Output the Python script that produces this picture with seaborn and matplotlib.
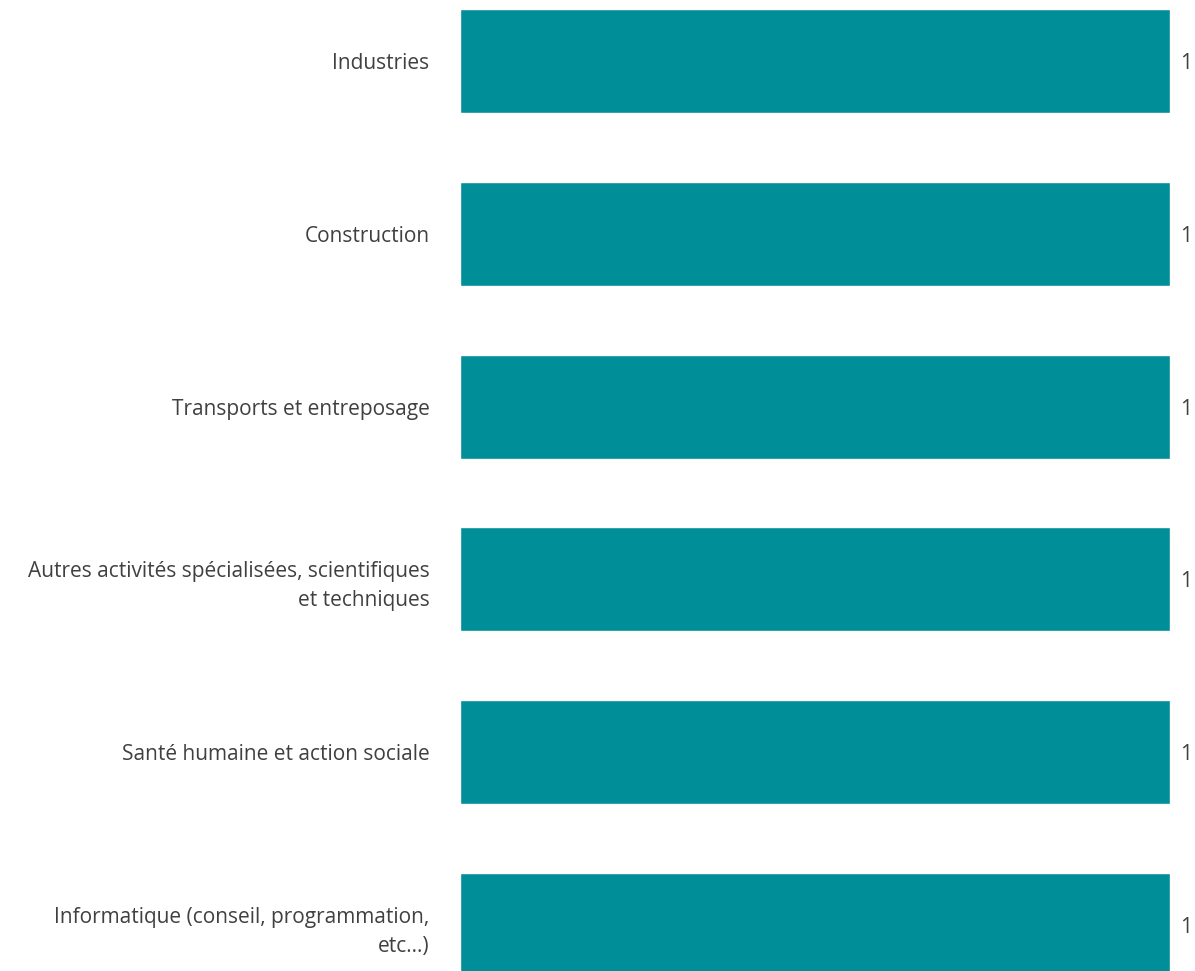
import pandas as pd
import matplotlib.pyplot as plt
import seaborn as sns

# données
secteurs = ["Industries",
            "Construction",
            "Transports et entreposage",
            "Autres activités spécialisées, scientifiques\net techniques",
            "Santé humaine et action sociale",
            "Informatique (conseil, programmation,\netc...)"]
valeurs = [1, 1, 1, 1, 1, 1]

df = pd.DataFrame({"secteur": secteurs, "valeur": valeurs})

sns.set_style("white")
plt.rcParams['font.family'] = ['Open Sans', 'DejaVu Sans']

fig = plt.figure(figsize=(11.95, 9.71), dpi=100)
ax = fig.add_axes([460 / 1195, 0, 710 / 1195, 1])

sns.barplot(data=df, x="valeur", y="secteur", orient="h", color="#008f99",
            saturation=1, width=0.602, ax=ax)

ax.set_xlim(0, 1)
ax.set_ylim(5.266, -0.353)
ax.set_xlabel("")
ax.set_ylabel("")
ax.set_xticks([])
sns.despine(ax=ax, left=True, bottom=True)
ax.tick_params(axis="y", length=0, pad=22, labelsize=15, labelcolor="#404040")
for lab in ax.get_yticklabels():
    lab.set_linespacing(1.5)
    lab.set_verticalalignment("center_baseline")

for i, v in enumerate(valeurs):
    ax.text(v + 0.0145, i, str(v), va="center_baseline", ha="left", fontsize=15,
            color="#404040", clip_on=False)

fig.savefig("out.png", dpi=100)
